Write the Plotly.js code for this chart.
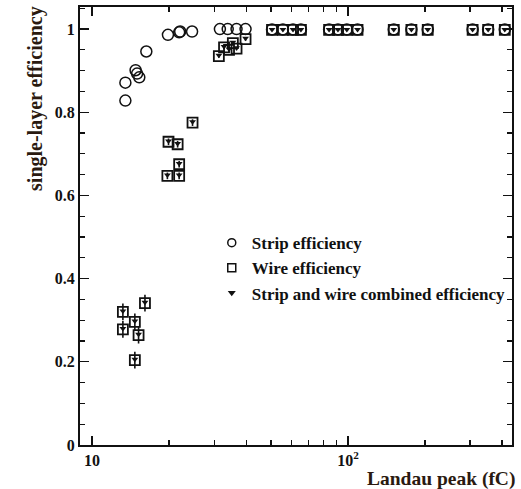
<!DOCTYPE html>
<html>
<head>
<meta charset="utf-8">
<script src="https://cdn.plot.ly/plotly-3.0.1.min.js"></script>
<style>html,body{margin:0;padding:0;background:#fff;}#chart{width:521px;height:489px;}</style>
</head>
<body>
<div id="chart"></div>
<script>
// Strip efficiency (circles)
var stripX = [13.5, 13.5, 14.8, 15.0, 15.3, 16.3, 19.8, 21.9, 22.1, 24.6, 31.6, 33.9, 36.7, 39.8,
              50.5, 55.7, 61, 65.5, 84.4, 91.4, 99, 109, 151, 177, 205, 307, 353, 410];
var stripY = [0.828, 0.871, 0.901, 0.893, 0.884, 0.946, 0.986, 0.992, 0.994, 0.994, 1.0, 1.0, 1.0, 1.0,
              0.999, 0.999, 0.999, 0.999, 0.999, 0.999, 0.999, 0.999, 0.999, 0.999, 0.999, 0.999, 0.999, 0.999];

// Wire efficiency (squares)
var wireX = [13.2, 13.2, 14.7, 15.2, 14.7, 16.1,
             19.7, 19.9, 21.6, 21.9, 21.9, 24.7,
             31.3, 32.8, 34.3, 35.5, 36.7, 39.8,
             50.5, 55.7, 61, 65.5, 84.4, 91.4, 99, 109, 151, 177, 205, 307, 353, 410];
var wireY = [0.320, 0.278, 0.296, 0.264, 0.204, 0.341,
             0.647, 0.729, 0.723, 0.675, 0.647, 0.775,
             0.935, 0.956, 0.950, 0.966, 0.953, 0.976,
             0.998, 0.998, 0.998, 0.998, 0.998, 0.998, 0.998, 0.998, 0.998, 0.998, 0.998, 0.998, 0.998, 0.998];
var wireErr = [0.02, 0.02, 0.02, 0.02, 0.02, 0.02,
               0.008, 0.008, 0.008, 0.008, 0.008, 0.008,
               0.004, 0.004, 0.004, 0.004, 0.004, 0.004,
               0.002, 0.002, 0.002, 0.002, 0.002, 0.002, 0.002, 0.002, 0.002, 0.002, 0.002, 0.002, 0.002, 0.002];

// Strip and wire combined efficiency (triangles)
var combX = wireX.slice();
var combY = [0.322, 0.280, 0.298, 0.266, 0.206, 0.343,
             0.649, 0.731, 0.725, 0.677, 0.649, 0.777,
             0.937, 0.958, 0.952, 0.968, 0.955, 0.978,
             0.999, 0.999, 0.999, 0.999, 0.999, 0.999, 0.999, 0.999, 0.999, 0.999, 0.999, 0.999, 0.999, 0.999];

var names = ['Strip efficiency', 'Wire efficiency', 'Strip and wire combined efficiency'];
var yTickVals = [0, 0.2, 0.4, 0.6, 0.8, 1];
var yTickText = ['0', '0.2', '0.4', '0.6', '0.8', '1'];
var xTickVals = [10, 100];
var xTickText = ['10', '10<sup>2</sup>'];
var xMinorVals = [20, 30, 40, 50, 60, 70, 80, 90, 200, 300, 400];

var serif = 'Liberation Serif, Times New Roman, serif';

var traces = [
  {x: stripX, y: stripY, type: 'scatter', mode: 'markers', showlegend: false,
   marker: {symbol: 'circle-open', size: 11, color: '#111', line: {width: 1.5, color: '#111'}}},
  {x: wireX, y: wireY, type: 'scatter', mode: 'markers', showlegend: false,
   error_y: {type: 'data', array: wireErr, visible: true, color: '#111', thickness: 1.6, width: 0},
   marker: {symbol: 'square-open', size: 10, color: '#111', line: {width: 1.8, color: '#111'}}},
  {x: combX, y: combY, type: 'scatter', mode: 'markers', showlegend: false,
   marker: {symbol: 'triangle-down', size: 6, color: '#111'}},
  // legend entries
  {x: [null], y: [null], type: 'scatter', mode: 'markers', name: names[0],
   marker: {symbol: 'circle-open', size: 8, color: '#111', line: {width: 1.5, color: '#111'}}},
  {x: [null], y: [null], type: 'scatter', mode: 'markers', name: names[1],
   marker: {symbol: 'square-open', size: 8, color: '#111', line: {width: 1.5, color: '#111'}}},
  {x: [null], y: [null], type: 'scatter', mode: 'markers', name: names[2],
   marker: {symbol: 'triangle-down', size: 7, color: '#111'}}
];

var layout = {
  width: 521, height: 489,
  margin: {l: 80, r: 9, t: 7, b: 44},
  paper_bgcolor: '#fff', plot_bgcolor: '#fff',
  font: {family: serif, color: '#111', size: 16, weight: 'bold'},
  showlegend: true,
  legend: {x: 0.305, y: 0.502, xanchor: 'left', yanchor: 'top', bgcolor: 'rgba(0,0,0,0)',
           font: {family: serif, size: 17, color: '#111', weight: 'bold'}, tracegroupgap: 0},
  xaxis: {type: 'log', range: [0.953, 2.641], showline: true, linecolor: '#111', linewidth: 2,
          mirror: 'ticks', ticks: 'inside', ticklen: 9, tickwidth: 1.2, tickcolor: '#111',
          tickmode: 'array', tickvals: xTickVals, ticktext: xTickText, showgrid: false, zeroline: false,
          tickfont: {family: serif, size: 16, color: '#111', weight: 'bold'},
          minor: {tickmode: 'array', tickvals: xMinorVals, ticks: 'inside', ticklen: 5, tickwidth: 1.2, tickcolor: '#111', showgrid: false}},
  yaxis: {range: [0, 1.053], showline: true, linecolor: '#111', linewidth: 2,
          mirror: 'ticks', ticks: 'inside', ticklen: 9, tickwidth: 1.2, tickcolor: '#111',
          tickmode: 'array', tickvals: yTickVals, ticktext: yTickText, showgrid: false, zeroline: false,
          tickfont: {family: serif, size: 16, color: '#111', weight: 'bold'},
          minor: {dtick: 0.05, ticks: 'inside', ticklen: 5, tickwidth: 1.2, tickcolor: '#111', showgrid: false}},
  annotations: [
    {text: 'Landau peak (fC)', xref: 'paper', yref: 'paper', x: 1.012, y: -0.048, xanchor: 'right', yanchor: 'top',
     showarrow: false, font: {family: serif, size: 19.5, color: '#2a1a10', weight: 'bold'}},
    {text: 'single-layer efficiency', xref: 'paper', yref: 'paper', x: -0.102, y: 1.008, xanchor: 'center', yanchor: 'top',
     textangle: -90, showarrow: false, font: {family: serif, size: 20, color: '#2a1a10', weight: 'bold'}}
  ]
};

Plotly.newPlot('chart', traces, layout, {displayModeBar: false, staticPlot: true});
</script>
</body>
</html>
